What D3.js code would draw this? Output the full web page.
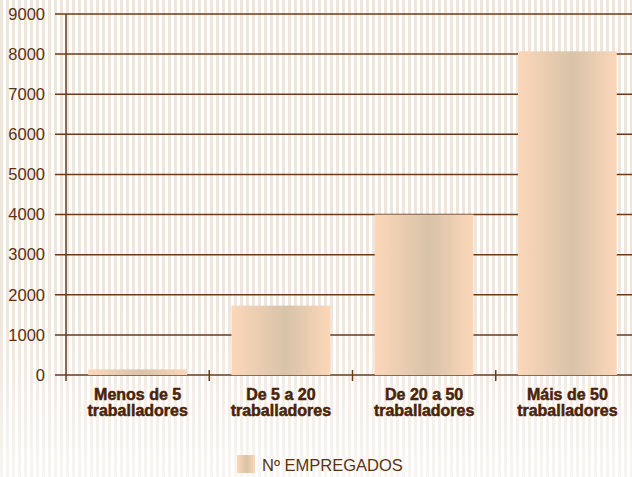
<!DOCTYPE html>
<html>
<head>
<meta charset="utf-8">
<script src="https://cdn.jsdelivr.net/npm/d3@7"></script>
<style>
  body { margin: 0; background: #fff; }
  svg { display: block; font-family: "Liberation Sans", Arial, sans-serif; }
</style>
</head>
<body>
<div id="chart"></div>
<script>
    // values
    var categories = [["Menos de 5", "traballadores"], ["De 5 a 20", "traballadores"],
                      ["De 20 a 50", "traballadores"], ["Máis de 50", "traballadores"]]
    var empregados = [140, 1730, 4000, 8070]
    var yTicks = [0, 1000, 2000, 3000, 4000, 5000, 6000, 7000, 8000, 9000]
    var seriesName = "Nº EMPREGADOS"

    var width = 632, height = 477
    var plotLeft = 66, plotRight = 639, plotTop = 14, plotBottom = 375

    var svg = d3.select("#chart").append("svg")
        .attr("width", width)
        .attr("height", height)

    var defs = svg.append("defs")

    // striped background, fading out towards the bottom
    var stripes = defs.append("pattern")
        .attr("id", "stripes")
        .attr("patternUnits", "userSpaceOnUse")
        .attr("width", 6).attr("height", 10)
    stripes.append("rect").attr("width", 6).attr("height", 10).attr("fill", "#fff")
    stripes.append("rect").attr("width", 3).attr("height", 10).attr("fill", "#efe6db")

    var fade = defs.append("linearGradient").attr("id", "fade")
        .attr("x1", 0).attr("x2", 0).attr("y1", 0).attr("y2", 1)
    fade.append("stop").attr("offset", "0%").attr("stop-color", "#fff").attr("stop-opacity", 0)
    fade.append("stop").attr("offset", "65%").attr("stop-color", "#fff").attr("stop-opacity", 0)
    fade.append("stop").attr("offset", "100%").attr("stop-color", "#fff").attr("stop-opacity", 0.6)

    var barGrad = defs.append("linearGradient").attr("id", "bar")
        .attr("x1", 0).attr("x2", 1).attr("y1", 0).attr("y2", 0)
    barGrad.append("stop").attr("offset", "0%").attr("stop-color", "#fcd7b9")
    barGrad.append("stop").attr("offset", "55%").attr("stop-color", "#d8c3a9")
    barGrad.append("stop").attr("offset", "100%").attr("stop-color", "#fcd7b9")

    svg.append("rect").attr("width", width).attr("height", height).attr("fill", "url(#stripes)")
    svg.append("rect").attr("width", width).attr("height", height).attr("fill", "url(#fade)")

    var x = d3.scaleBand()
        .domain(d3.range(categories.length))
        .range([plotLeft, plotRight])
        .paddingInner(0.31)
        .paddingOuter(0.155)

    var y = d3.scaleLinear()
        .domain([0, 9000])
        .range([plotBottom, plotTop])

    // gridlines + y labels
    var yAxis = svg.append("g")
    yAxis.selectAll("line")
        .data(yTicks)
        .join("line")
            .attr("x1", 55).attr("x2", width)
            .attr("y1", d => y(d)).attr("y2", d => y(d))
            .attr("stroke", "#6b3a18")
            .attr("stroke-width", 1.5)
    yAxis.selectAll("text")
        .data(yTicks)
        .join("text")
            .attr("x", 45)
            .attr("y", d => y(d))
            .attr("dy", "0.35em")
            .attr("text-anchor", "end")
            .attr("font-size", 16.5)
            .attr("fill", "#5a3214")
            .text(d => d)

    // y axis line
    svg.append("line")
        .attr("x1", plotLeft).attr("x2", plotLeft)
        .attr("y1", y(9000)).attr("y2", plotBottom + 6)
        .attr("stroke", "#6b3a18").attr("stroke-width", 1.5)

    // x ticks between categories
    var step = x.step()
    svg.selectAll(".xtick")
        .data(d3.range(1, categories.length))
        .join("line")
            .attr("class", "xtick")
            .attr("x1", d => plotLeft + d * step).attr("x2", d => plotLeft + d * step)
            .attr("y1", plotBottom - 5).attr("y2", plotBottom + 6)
            .attr("stroke", "#6b3a18").attr("stroke-width", 1.5)

    // bars
    svg.selectAll(".bar")
        .data(empregados)
        .join("rect")
            .attr("class", "bar")
            .attr("x", (d, i) => x(i))
            .attr("y", d => y(d))
            .attr("width", x.bandwidth())
            .attr("height", d => plotBottom - y(d))
            .attr("fill", "url(#bar)")

    // category labels, two lines each
    var catLines = []
    categories.forEach((c, i) => c.forEach((t, j) => catLines.push({i: i, j: j, t: t})))
    svg.selectAll(".cat")
        .data(catLines)
        .join("text")
            .attr("class", "cat")
            .attr("x", d => x(d.i) + x.bandwidth() / 2)
            .attr("y", d => 400 + d.j * 15.5)
            .attr("text-anchor", "middle")
            .attr("font-size", 16)
            .attr("font-weight", "bold")
            .attr("fill", "#4a2308")
            .attr("stroke", "#4a2308")
            .attr("stroke-width", 0.5)
            .text(d => d.t)

    // legend
    var legend = svg.append("g").attr("transform", "translate(237,455)")
    legend.append("rect")
        .attr("x", 0).attr("y", 0)
        .attr("width", 18).attr("height", 18)
        .attr("fill", "url(#bar)")
    legend.append("text")
        .attr("x", 25).attr("y", 10)
        .attr("dy", "0.35em")
        .attr("font-size", 16.5)
        .attr("fill", "#5a3214")
        .text(seriesName)
</script>
</body>
</html>
